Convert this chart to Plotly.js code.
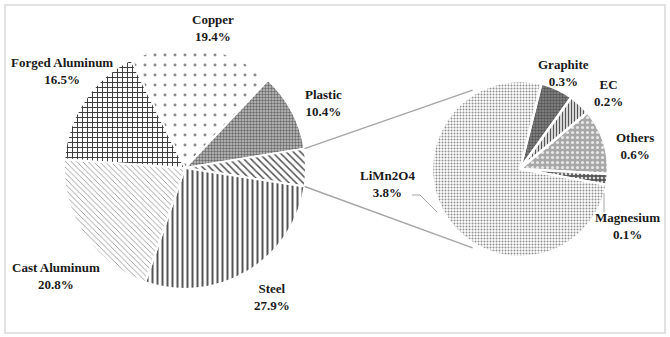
<!DOCTYPE html>
<html>
<head>
<meta charset="utf-8">
<script src="https://cdn.plot.ly/plotly-3.0.1.min.js"></script>
<style>html,body{margin:0;padding:0;background:#fff;}#chart{width:670px;height:337px;}</style>
</head>
<body>
<div id="chart"></div>
<script>
// ---- data ----
var mainLabels = ["Copper", "Plastic", "Other", "Steel", "Cast Aluminum", "Forged Aluminum"];
var mainValues = [19.4, 10.4, 5.0, 27.9, 20.8, 16.5];
var subLabels = ["Graphite", "EC", "Others", "Magnesium", "LiMn2O4"];
var subValues = [0.3, 0.2, 0.6, 0.1, 3.8];

// ---- layout geometry (style) ----
var W = 670, H = 337;
var c1 = {x: 185, y: 168, r: 121};
var c2 = {x: 520, y: 169, r: 88};
function dom(c) {
  return {x: [(c.x - c.r) / W, (c.x + c.r) / W], y: [1 - (c.y + c.r) / H, 1 - (c.y - c.r) / H]};
}
var rot1 = -26.5, rot2 = 14;

var mainPat = {
  shape:    [".", ".", "\\", "|", "\\", "+"],
  size:     [10, 3, 5, 5, 4, 5],
  solidity: [0.07, 0.5, 0.3, 0.4, 0.2, 0.35],
  fgcolor:  ["#8a8a8a", "#6a6a6a", "#555", "#555", "#8a8a8a", "#3a3a3a"],
  bgcolor:  ["#fff", "#c4c4c4", "#fff", "#fff", "#fff", "#fff"],
  fillmode: "replace"
};
var subPat = {
  shape:    [".", "|", ".", ".", "."],
  size:     [3, 3, 5, 4, 3],
  solidity: [0.55, 0.5, 0.3, 0.35, 0.35],
  fgcolor:  ["#555", "#555", "#e8e8e8", "#ddd", "#8e8e8e"],
  bgcolor:  ["#8a8a8a", "#fff", "#a8a8a8", "#555", "#fff"],
  fillmode: "replace"
};

var traces = [
  {type: "pie", labels: mainLabels, values: mainValues, sort: false, direction: "clockwise",
   rotation: rot1, textinfo: "none", hoverinfo: "label+value", domain: dom(c1),
   marker: {colors: ["#fff","#fff","#fff","#fff","#fff","#fff"], pattern: mainPat, line: {color: "#fff", width: 2}}},
  {type: "pie", labels: subLabels, values: subValues, sort: false, direction: "clockwise",
   rotation: rot2, textinfo: "none", hoverinfo: "label+value", domain: dom(c2),
   marker: {colors: ["#fff","#fff","#fff","#fff","#fff"], pattern: subPat, line: {color: "#fff", width: 2.5}}}
];

// label positions (pixels, centre of two-line label)
var mainLabelPos = [[213, 28], [323, 103], null, [272, 297], [56, 276], [62, 71]];
var subLabelPos = [[563, 73], [608, 93], [635, 146], [627, 226], [387, 184]];

function px(x) { return x / W; }
function py(y) { return 1 - y / H; }

var annotations = [];
function addLabels(labels, values, pos) {
  labels.forEach(function (l, i) {
    if (!pos[i]) return;
    annotations.push({
      xref: "paper", yref: "paper", x: px(pos[i][0]), y: py(pos[i][1]),
      xanchor: "center", yanchor: "middle", showarrow: false, align: "center",
      text: "<b>" + l + "<br>" + values[i].toFixed(1) + "%</b>",
      font: {family: "Liberation Serif, Times New Roman, serif", size: 13, color: "#1a1a1a"}
    });
  });
}
addLabels(mainLabels, mainValues, mainLabelPos);
addLabels(subLabels, subValues, subLabelPos);

// connector lines computed from slice geometry
var total1 = mainValues.reduce(function (a, b) { return a + b; }, 0);
var startFrac = (mainValues[0] + mainValues[1]) / total1;
var endFrac = startFrac + mainValues[2] / total1;
function ptOn(c, degFromTop, rr) {
  var a = degFromTop * Math.PI / 180;
  return {x: c.x + rr * Math.sin(a), y: c.y - rr * Math.cos(a)};
}
var p1 = ptOn(c1, rot1 + 360 * startFrac, c1.r);
var p2 = ptOn(c1, rot1 + 360 * endFrac, c1.r);
var q1 = ptOn(c2, -31, c2.r + 4);
var q2 = ptOn(c2, 211, c2.r + 4);
var lineStyle = {color: "#a6a6a6", width: 1.5};
var shapes = [
  {type: "rect", xref: "paper", yref: "paper", x0: px(5), x1: px(665), y0: py(333), y1: py(5),
   line: {color: "#d9d9d9", width: 1.5}, layer: "below"},
  {type: "line", xref: "paper", yref: "paper", x0: px(p1.x), y0: py(p1.y), x1: px(q1.x), y1: py(q1.y), line: lineStyle},
  {type: "line", xref: "paper", yref: "paper", x0: px(p2.x), y0: py(p2.y), x1: px(q2.x), y1: py(q2.y), line: lineStyle},
  // leader lines
  {type: "path", xref: "paper", yref: "paper",
   path: "M " + px(412) + " " + py(195) + " L " + px(420) + " " + py(195) + " L " + px(437) + " " + py(212),
   line: {color: "#a6a6a6", width: 1}},
  {type: "line", xref: "paper", yref: "paper", x0: px(604), y0: py(193), x1: px(604), y1: py(212),
   line: {color: "#a6a6a6", width: 1}}
];

var layout = {
  width: W, height: H, margin: {l: 0, r: 0, t: 0, b: 0},
  paper_bgcolor: "#fff", plot_bgcolor: "#fff", showlegend: false,
  annotations: annotations, shapes: shapes
};
Plotly.newPlot("chart", traces, layout, {displayModeBar: false, staticPlot: true});
</script>
</body>
</html>
